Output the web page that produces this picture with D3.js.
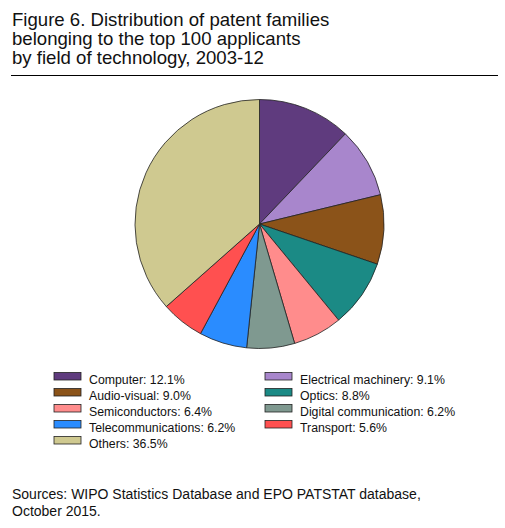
<!DOCTYPE html>
<html>
<head>
<meta charset="utf-8">
<script src="https://cdn.jsdelivr.net/npm/d3@7"></script>
<style>
  body { margin: 0; background: #fff; }
  svg text { font-family: "Liberation Sans", Arial, Helvetica, sans-serif; fill: #111; }
</style>
</head>
<body>
<div id="chart"></div>
<script>
// data
const fields = ['Computer', 'Electrical machinery', 'Audio-visual', 'Optics',
  'Semiconductors', 'Digital communication', 'Telecommunications', 'Transport', 'Others'];
const shares = [12.1, 9.1, 9.0, 8.8, 6.4, 6.2, 6.2, 5.6, 36.5];
const colours = ['#5f3b7e', '#a886cc', '#8b5319', '#1b8a85', '#ff8c8c',
  '#7f9990', '#2a8cff', '#ff5050', '#cfc990'];
// legend is laid out in reading order, two columns
const legendOrder = ['Computer', 'Electrical machinery', 'Audio-visual', 'Optics',
  'Semiconductors', 'Digital communication', 'Telecommunications', 'Transport', 'Others'];
const titleLines = ['Figure 6. Distribution of patent families',
  'belonging to the top 100 applicants', 'by field of technology, 2003-12'];
const sourceLines = ['Sources: WIPO Statistics Database and EPO PATSTAT database,',
  'October 2015.'];

(function () {
  const W = 505, H = 528;
  const svg = d3.select('#chart').append('svg')
    .attr('width', W).attr('height', H)
    .attr('viewBox', `0 0 ${W} ${H}`);

  // title
  svg.append('g').selectAll('text').data(titleLines).join('text')
    .attr('x', 12)
    .attr('y', (d, i) => 26 + i * 19)
    .attr('font-size', 18.6)
    .text(d => d);
  svg.append('line')
    .attr('x1', 11).attr('x2', 498)
    .attr('y1', 75.5).attr('y2', 75.5)
    .attr('stroke', '#000').attr('stroke-width', 1);

  // pie
  const data = fields.map((f, i) => ({ field: f, value: shares[i], colour: colours[i] }));
  const pie = d3.pie().sort(null).value(d => d.value);
  const arc = d3.arc().innerRadius(0).outerRadius(124.5);
  svg.append('g')
    .attr('transform', 'translate(259.5,224)')
    .selectAll('path').data(pie(data)).join('path')
    .attr('d', arc)
    .attr('fill', d => d.data.colour)
    .attr('stroke', '#222')
    .attr('stroke-width', 0.8);

  // legend
  const colourOf = d3.scaleOrdinal().domain(fields).range(colours);
  const valueOf = new Map(fields.map((f, i) => [f, shares[i]]));
  const lg = svg.append('g');
  const items = lg.selectAll('g').data(legendOrder).join('g')
    .attr('transform', (d, i) => `translate(${i % 2 ? 265 : 54},${372.5 + Math.floor(i / 2) * 16})`);
  items.append('rect')
    .attr('width', 27).attr('height', 7.5)
    .attr('fill', d => colourOf(d))
    .attr('stroke', '#222').attr('stroke-width', 0.8);
  items.append('text')
    .attr('x', 35).attr('y', 11)
    .attr('font-size', 12.3)
    .text(d => `${d}: ${valueOf.get(d).toFixed(1)}%`);

  // source note
  svg.append('g').selectAll('text').data(sourceLines).join('text')
    .attr('x', 12)
    .attr('y', (d, i) => 499 + i * 16.5)
    .attr('font-size', 14)
    .text(d => d);
})();
</script>
</body>
</html>
